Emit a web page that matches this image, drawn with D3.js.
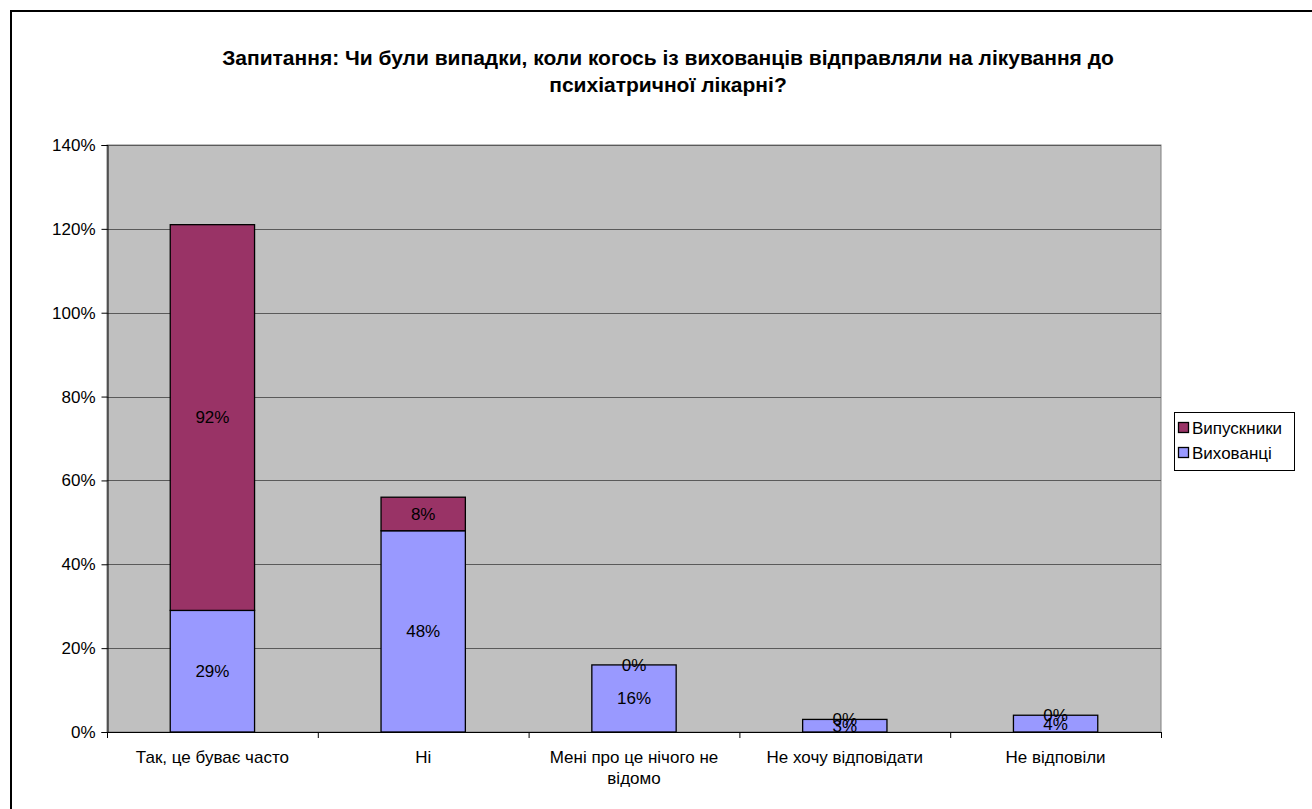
<!DOCTYPE html>
<html><head><meta charset="utf-8">
<script src="https://cdn.jsdelivr.net/npm/d3@7"></script>
<style>body{margin:0;background:#fff}svg{display:block;font-family:"Liberation Sans",Arial,sans-serif}</style>
</head><body>
<svg id="c" width="1312" height="809"></svg>
<script>
const categories = ["Так, це буває часто", "Ні", "Мені про це нічого не відомо", "Не хочу відповідати", "Не відповіли"];
const seriesNames = ["Вихованці", "Випускники"];
const vykhovantsi = [29, 48, 16, 3, 4];
const vypusknyky = [92, 8, 0, 0, 0];
const yTicks = [0, 20, 40, 60, 80, 100, 120, 140];
const title = ["Запитання: Чи були випадки, коли когось із вихованців відправляли на лікування до", "психіатричної лікарні?"];
const colors = {"Вихованці": "#9999FF", "Випускники": "#993366"};

const FS = 17;
const svg = d3.select("#c");
svg.append("rect").attr("x", 11).attr("y", 11).attr("width", 1400).attr("height", 900)
  .attr("fill", "none").attr("stroke", "#000").attr("stroke-width", 2);

const L = 107, R = 1161, T = 145, B = 732;
const x = d3.scaleBand().domain(categories).range([L, R]).paddingInner(0.6).paddingOuter(0.3);
const xb = d3.scaleBand().domain(categories).range([L, R]);
const y = d3.scaleLinear().domain([0, 140]).range([B, T]);

svg.append("rect").attr("x", L).attr("y", T).attr("width", R - L).attr("height", B - T)
  .attr("fill", "#C0C0C0").attr("stroke", "#808080").attr("stroke-width", 1);

svg.append("g").selectAll("line").data(yTicks.filter(d => d > 0)).join("line")
  .attr("x1", L).attr("x2", R).attr("y1", d => Math.round(y(d)) + 0.5).attr("y2", d => Math.round(y(d)) + 0.5)
  .attr("stroke", "#5a5a5a").attr("stroke-width", 1);

svg.append("text").attr("text-anchor", "middle").attr("font-weight", "bold").attr("font-size", 21)
  .selectAll("tspan").data(title).join("tspan")
  .attr("x", 668).attr("y", (d, i) => 65 + i * 27).text(d => d);

const rows = categories.map((c, i) => ({cat: c, "Вихованці": vykhovantsi[i], "Випускники": vypusknyky[i]}));
const stack = d3.stack().keys(seriesNames)(rows);

const g = svg.append("g");
stack.forEach(layer => {
  g.selectAll(null).data(layer).join("rect")
    .attr("x", d => x(d.data.cat)).attr("width", x.bandwidth())
    .attr("y", d => y(d[1])).attr("height", d => y(d[0]) - y(d[1]))
    .attr("fill", colors[layer.key]).attr("stroke", "#000").attr("stroke-width", 1.3);
});
stack.forEach(layer => {
  g.selectAll(null).data(layer).join("text")
    .attr("x", d => x(d.data.cat) + x.bandwidth() / 2)
    .attr("y", d => (y(d[0]) + y(d[1])) / 2)
    .attr("dy", "0.35em").attr("text-anchor", "middle").attr("font-size", FS).attr("fill", "#000")
    .text(d => (d[1] - d[0]) + "%");
});

const ya = d3.axisLeft(y).tickValues(yTicks).tickFormat(d => d + "%").tickSize(6).tickPadding(6);
const yg = svg.append("g").attr("transform", `translate(${L + 0.5},0)`).call(ya);
yg.select(".domain").attr("stroke", "#000");
yg.selectAll(".tick line").attr("stroke", "#000");
yg.selectAll("text").attr("font-size", FS).attr("fill", "#000").attr("font-family", "Liberation Sans, Arial, sans-serif");

svg.append("line").attr("x1", L).attr("x2", R).attr("y1", B + 0.5).attr("y2", B + 0.5).attr("stroke", "#000");
const bounds = categories.map(c => xb(c)).concat([R]);
svg.append("g").selectAll("line").data(bounds).join("line")
  .attr("x1", d => d + 0.5).attr("x2", d => d + 0.5).attr("y1", B).attr("y2", B + 6).attr("stroke", "#000");

const maxW = 180;
categories.forEach(c => {
  const t = svg.append("text").attr("text-anchor", "middle").attr("font-size", FS).attr("fill", "#000");
  const cx = xb(c) + xb.bandwidth() / 2;
  const words = c.split(" ");
  let lines = [], cur = [];
  const probe = svg.append("text").attr("font-size", FS);
  words.forEach(w => {
    const test = cur.concat([w]).join(" ");
    probe.text(test);
    if (probe.node().getComputedTextLength() > maxW && cur.length) { lines.push(cur.join(" ")); cur = [w]; }
    else cur.push(w);
  });
  lines.push(cur.join(" "));
  probe.remove();
  t.selectAll("tspan").data(lines).join("tspan").attr("x", cx).attr("y", (d, i) => 763 + i * 21).text(d => d);
});

const lg = svg.append("g");
lg.append("rect").attr("x", 1174.5).attr("y", 412.5).attr("width", 120).attr("height", 58)
  .attr("fill", "#fff").attr("stroke", "#000");
[...seriesNames].reverse().forEach((s, i) => {
  const yy = 428 + i * 25;
  lg.append("rect").attr("x", 1178.5).attr("y", yy - 5.5).attr("width", 10).attr("height", 10)
    .attr("fill", colors[s]).attr("stroke", "#000").attr("stroke-width", 1.3);
  lg.append("text").attr("x", 1192).attr("y", yy).attr("dy", "0.35em").attr("font-size", FS).text(s);
});
</script>
</body></html>
